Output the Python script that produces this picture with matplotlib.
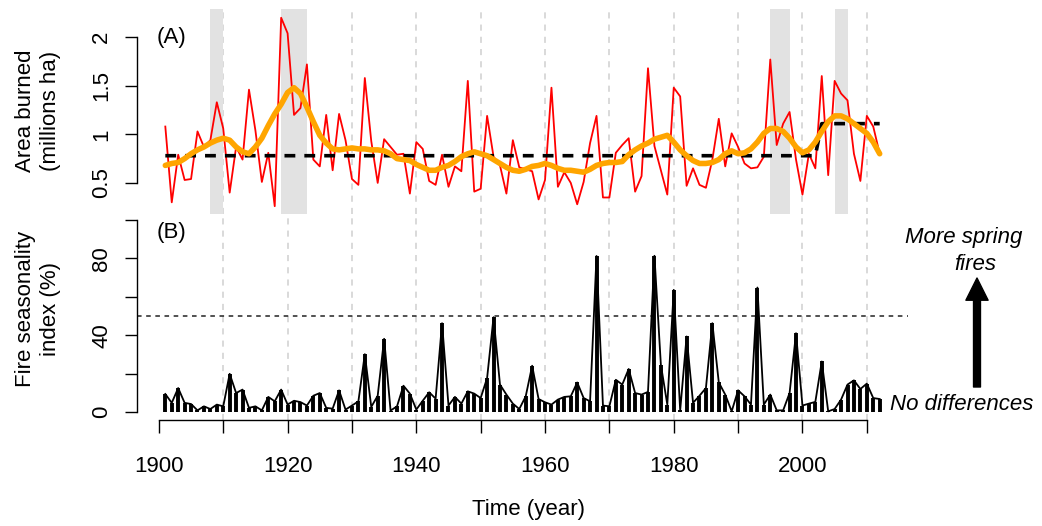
import numpy as np
import matplotlib.pyplot as plt

plt.rcParams['font.family'] = ['Liberation Sans', 'DejaVu Sans']
plt.rcParams['font.size'] = 16

years = np.arange(1901, 2013)

# (A) area burned, millions ha
area = [1.08, 0.30, 0.79, 0.53, 0.54, 1.03, 0.87, 0.94, 1.33, 1.06,
        0.40, 0.87, 0.74, 1.46, 1.04, 0.51, 0.81, 0.26, 2.20, 2.04,
        1.20, 1.27, 1.72, 0.74, 0.67, 1.20, 0.63, 1.21, 0.94, 0.54,
        0.48, 1.58, 0.93, 0.50, 0.95, 0.87, 0.79, 0.80, 0.39, 0.92,
        0.85, 0.52, 0.48, 0.79, 0.46, 0.67, 0.62, 1.55, 0.41, 0.44,
        1.19, 0.77, 0.68, 0.39, 0.94, 0.66, 0.64, 0.62, 0.33, 0.53,
        1.48, 0.46, 0.61, 0.50, 0.28, 0.51, 0.91, 1.19, 0.35, 0.35,
        0.81, 0.89, 0.96, 0.41, 0.57, 1.68, 0.88, 0.63, 0.38, 1.48,
        1.39, 0.47, 0.65, 0.48, 0.45, 0.74, 1.16, 0.67, 1.01, 0.87,
        0.70, 0.65, 0.66, 0.77, 1.77, 0.89, 1.11, 1.23, 0.74, 0.38,
        0.80, 0.65, 1.60, 0.58, 1.55, 1.42, 1.35, 0.80, 0.52, 1.19,
        1.08, 0.80]

smooth = [0.68, 0.70, 0.71, 0.75, 0.80, 0.84, 0.87, 0.91, 0.94, 0.96,
          0.94, 0.87, 0.82, 0.80, 0.87, 0.96, 1.09, 1.21, 1.31, 1.43,
          1.48, 1.42, 1.28, 1.13, 0.99, 0.91, 0.85, 0.84, 0.85, 0.86,
          0.85, 0.85, 0.84, 0.84, 0.83, 0.80, 0.75, 0.74, 0.73, 0.69,
          0.66, 0.63, 0.63, 0.66, 0.68, 0.72, 0.77, 0.80, 0.82, 0.80,
          0.78, 0.74, 0.70, 0.66, 0.63, 0.62, 0.64, 0.67, 0.68, 0.70,
          0.68, 0.65, 0.63, 0.63, 0.62, 0.61, 0.64, 0.68, 0.70, 0.71,
          0.71, 0.72, 0.79, 0.84, 0.88, 0.91, 0.95, 0.97, 0.99, 0.92,
          0.84, 0.78, 0.73, 0.70, 0.70, 0.71, 0.74, 0.80, 0.83, 0.80,
          0.81, 0.85, 0.92, 1.01, 1.06, 1.06, 1.03, 0.96, 0.87, 0.81,
          0.84, 0.92, 1.03, 1.13, 1.19, 1.19, 1.16, 1.11, 1.06, 1.01,
          0.92, 0.80]

# period means (break after 2002)
mean_level = [0.78] * 102 + [1.11] * 10

# shaded periods
shade_periods = [(1908, 1910), (1919, 1923), (1995, 1998), (2005, 2007)]

# (B) fire seasonality index, %
fsi = [9.5, 4.9, 12.6, 4.9, 4.3, 1.0, 3.1, 1.7, 4.0, 3.1,
       20.0, 10.0, 11.8, 2.3, 3.1, 1.0, 8.0, 5.7, 11.8, 4.0,
       6.0, 5.3, 3.5, 8.6, 10.0, 2.3, 1.9, 11.4, 1.4, 3.5,
       5.7, 30.2, 2.8, 8.6, 38.2, 0.9, 3.1, 13.8, 9.7, 1.4,
       6.0, 10.4, 7.1, 46.3, 3.5, 8.0, 4.5, 10.9, 9.7, 7.4,
       17.8, 49.4, 14.4, 9.2, 4.5, 1.7, 8.3, 24.2, 6.9, 5.2,
       4.0, 6.6, 8.0, 8.3, 15.5, 7.4, 5.7, 81.2, 3.5, 3.1,
       16.9, 14.4, 22.5, 10.0, 9.2, 10.6, 81.3, 24.7, 4.0, 63.6,
       1.0, 39.4, 4.9, 8.6, 12.6, 46.3, 15.5, 9.2, 0.5, 11.4,
       8.3, 4.0, 64.8, 4.0, 9.2, 1.0, 1.0, 10.0, 41.1, 3.5,
       4.5, 5.4, 26.4, 0.5, 1.7, 6.6, 14.4, 16.6, 12.1, 14.9,
       7.4, 6.9]

xticks = list(range(1900, 2011, 10))
xticklabels = [str(t) if t % 20 == 0 else '' for t in xticks]
grid_years = list(range(1910, 2011, 10))

W, H = 1042, 526
fig = plt.figure(figsize=(W / 100, H / 100), dpi=100)
ax1 = fig.add_axes([137 / W, 1 - 214 / H, 771 / W, 205 / H])
ax2 = fig.add_axes([137 / W, 1 - 420 / H, 771 / W, 206 / H])

xlim = (1896.6, 2016.4)
grid_kw = dict(color='#d0d0d0', ls=(0, (4, 4)), lw=1.1, zorder=0)

# ---- panel A
for g in grid_years:
    ax1.axvline(g, **grid_kw)
for a, b in shade_periods:
    ax1.axvspan(a, b, color='#e2e2e2', lw=0, zorder=1)
ax1.plot(years, area, color='red', lw=1.3, zorder=2)
ax1.plot(years, mean_level, color='black', lw=2.6, ls=(0, (3, 2.5)), zorder=3)
ax1.plot(years, smooth, color='orange', lw=4, zorder=4, solid_capstyle='round')
ax1.set_xlim(*xlim)
ax1.set_ylim(0.18, 2.29)
ax1.set_yticks([0.5, 1, 1.5, 2])
ax1.set_yticklabels(['0.5', '1', '1.5', '2'])
ax1.text(1899.7, 2.0, '(A)', ha='left', va='center')

# ---- panel B
for g in grid_years:
    ax2.axvline(g, **grid_kw)
ax2.axhline(50, color='#222222', lw=1.1, ls=(0, (3, 3)), zorder=1)
ax2.vlines(years, 0, fsi, color='black', lw=2.8, zorder=2)
ax2.plot(years, fsi, color='black', lw=1.3, zorder=3)
ax2.set_xlim(*xlim)
ax2.set_ylim(-4, 103)
ax2.set_yticks([0, 20, 40, 60, 80, 100])
ax2.set_yticklabels(['0', '', '40', '', '80', ''])
ax2.set_xticks(xticks)
ax2.set_xticklabels(xticklabels)
ax2.text(1899.7, 93.6, '(B)', ha='left', va='center')

for ax in (ax1, ax2):
    for s in ('top', 'right', 'bottom'):
        ax.spines[s].set_visible(False)
    ax.spines['left'].set_linewidth(1.0)
    ax.tick_params(axis='y', direction='out', length=9, width=1.0, pad=9,
                   labelrotation=90)
    for lab in ax.get_yticklabels():
        lab.set_va('center')
ax1.spines['left'].set_bounds(0.5, 2)
ax1.tick_params(axis='x', bottom=False, labelbottom=False)
ax2.spines['left'].set_bounds(0, 100)
ax2.spines['bottom'].set_visible(True)
ax2.spines['bottom'].set_bounds(1900, 2010)
ax2.spines['bottom'].set_linewidth(1.0)
ax2.tick_params(axis='x', direction='out', length=9, width=1.0, pad=17)

# axis titles
fig.text(38 / W, 1 - 111 / H, 'Area burned\n(millions ha)', rotation=90,
         ha='center', va='center', multialignment='center', linespacing=1.25)
fig.text(38 / W, 1 - 309 / H, 'Fire seasonality\nindex (%)', rotation=90,
         ha='center', va='center', multialignment='center', linespacing=1.25)
fig.text(529 / W, 1 - 510 / H, 'Time (year)', ha='center', va='center')

# annotations on the right
fig.text(964 / W, 1 - 238 / H, 'More spring', style='italic',
         ha='center', va='center')
fig.text(975 / W, 1 - 265 / H, 'fires', style='italic', ha='center', va='center')
fig.text(890 / W, 1 - 405 / H, 'No differences', style='italic',
         ha='left', va='center')
ax2.annotate('', xy=(977, H - 278), xytext=(977, H - 387),
             xycoords='figure pixels', textcoords='figure pixels',
             arrowprops=dict(width=5, headwidth=16, headlength=16,
                             shrink=0, color='black'))

fig.savefig('out.png', dpi=100)
